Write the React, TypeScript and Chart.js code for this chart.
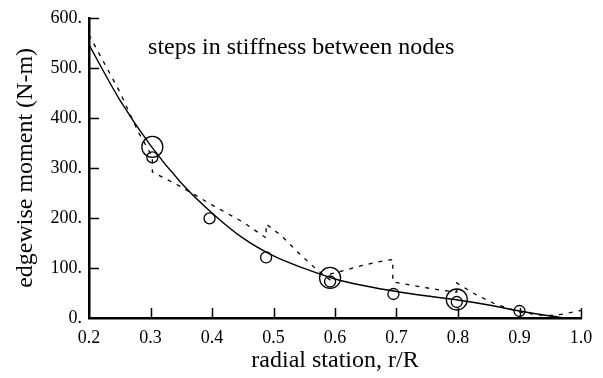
import React, { useEffect, useRef } from "react";
import { Chart, registerables } from "chart.js";

Chart.register(...registerables);

// Fitted curve (solid)
const fitR = [0.2, 0.25, 0.3, 0.35, 0.4, 0.45, 0.5, 0.55, 0.6, 0.65, 0.7, 0.75, 0.8, 0.85, 0.9, 0.95, 0.975];
const fitM = [546, 436, 345, 270, 210, 160, 124, 99, 78, 64, 53, 44, 36, 26, 14, 4, 0];

// Stepped stiffness model (dashed)
const stepR = [0.2, 0.25, 0.28, 0.303, 0.303, 0.35, 0.4, 0.45, 0.488, 0.488, 0.513, 0.54, 0.57, 0.593, 0.593, 0.645, 0.681, 0.694, 0.694, 0.74, 0.776, 0.798, 0.798, 0.826, 0.86, 0.9, 0.933, 0.952, 0.971, 1.0];
const stepM = [566, 452, 372, 322, 292, 262, 226, 192, 160, 188, 164, 131, 97, 75, 88, 105, 115, 117, 72, 62, 55, 52, 70, 49, 28, 12, 6, 5, 8, 15];

// Small circles (nodes)
const nodeR = [0.303, 0.396, 0.488, 0.592, 0.695, 0.798, 0.9];
const nodeM = [321, 199, 121, 73, 48, 32, 14];

// Large circles
const bigR = [0.303, 0.592, 0.798];
const bigM = [342, 80, 37];

const xTicks = [0.2, 0.3, 0.4, 0.5, 0.6, 0.7, 0.8, 0.9, 1.0];
const yTicks = [0, 100, 200, 300, 400, 500, 600];

const annotation = "steps in stiffness between nodes";
const xTitle = "radial station, r/R";
const yTitle = "edgewise moment (N-m)";

const FONT = "'Liberation Serif', 'Times New Roman', serif";

const pts = (xs: number[], ys: number[]) => xs.map((x, i) => ({ x, y: ys[i] }));

const innerTicks = {
  id: "innerTicks",
  afterDraw(chart: any) {
    const ctx = chart.ctx;
    const xs = chart.scales.x;
    const ys = chart.scales.y;
    const y0 = ys.getPixelForValue(0);
    const x0 = xs.getPixelForValue(0.2);
    ctx.save();
    ctx.strokeStyle = "#000";
    ctx.lineWidth = 1.5;
    ctx.beginPath();
    xTicks.slice(1).forEach((v) => {
      const px = Math.round(xs.getPixelForValue(v)) + 0.5;
      ctx.moveTo(px, y0);
      ctx.lineTo(px, y0 - 10);
    });
    yTicks.slice(1).forEach((v) => {
      const py = Math.round(ys.getPixelForValue(v)) + 0.5;
      ctx.moveTo(x0, py);
      ctx.lineTo(x0 + 10, py);
    });
    ctx.stroke();
    // annotation text
    ctx.fillStyle = "#000";
    ctx.font = `24px ${FONT}`;
    ctx.textBaseline = "alphabetic";
    ctx.textAlign = "left";
    ctx.fillText(annotation, xs.getPixelForValue(0.296), ys.getPixelForValue(527));
    ctx.restore();
  },
};

export default function App() {
  const ref = useRef<HTMLCanvasElement | null>(null);
  useEffect(() => {
    if (!ref.current) return;
    const chart = new Chart(ref.current, {
      type: "scatter",
      data: {
        datasets: [
          {
            data: pts(fitR, fitM),
            showLine: true,
            borderColor: "#000",
            borderWidth: 1.4,
            pointRadius: 0,
            cubicInterpolationMode: "monotone",
            fill: false,
          },
          {
            data: pts(stepR, stepM),
            showLine: true,
            borderColor: "#000",
            borderWidth: 1.3,
            borderDash: [4, 6],
            pointRadius: 0,
            tension: 0,
            fill: false,
          },
          {
            data: pts(nodeR, nodeM),
            showLine: false,
            pointRadius: 5.5,
            pointBorderWidth: 1.3,
            pointBorderColor: "#000",
            pointBackgroundColor: "rgba(0,0,0,0)",
          },
          {
            data: pts(bigR, bigM),
            showLine: false,
            pointRadius: 10.5,
            pointBorderWidth: 1.3,
            pointBorderColor: "#000",
            pointBackgroundColor: "rgba(0,0,0,0)",
          },
        ] as any,
      },
      options: {
        animation: false,
        responsive: true,
        maintainAspectRatio: false,
        layout: { padding: { left: 0, right: 22, top: 15, bottom: 0 } },
        plugins: { legend: { display: false }, tooltip: { enabled: false } },
        scales: {
          x: {
            type: "linear",
            min: 0.2,
            max: 1.0,
            afterBuildTicks: (s: any) => {
              s.ticks = xTicks.map((v) => ({ value: v }));
            },
            afterFit: (s: any) => {
              s.height = 60;
            },
            grid: { display: true, drawOnChartArea: false, drawTicks: false },
            border: { display: true, color: "#000", width: 2.5 },
            ticks: {
              color: "#000",
              padding: 9,
              maxRotation: 0,
              autoSkip: false,
              font: { family: FONT, size: 18 },
              callback: (v: any) => Number(v).toFixed(1),
            },
            title: {
              display: true,
              text: xTitle,
              color: "#000",
              font: { family: FONT, size: 24 },
              padding: { top: 0, bottom: 3 },
            },
          },
          y: {
            type: "linear",
            min: 0,
            max: 600,
            afterBuildTicks: (s: any) => {
              s.ticks = yTicks.map((v) => ({ value: v }));
            },
            afterFit: (s: any) => {
              s.width = 89;
            },
            grid: { display: true, drawOnChartArea: false, drawTicks: false },
            border: { display: true, color: "#000", width: 2.5 },
            ticks: {
              color: "#000",
              padding: 7,
              autoSkip: false,
              font: { family: FONT, size: 18 },
              callback: (v: any) => `${v}.`,
            },
            title: {
              display: true,
              text: yTitle,
              color: "#000",
              font: { family: FONT, size: 24 },
              padding: { top: 11, bottom: 0 },
            },
          },
        },
      } as any,
      plugins: [innerTicks],
    });
    return () => chart.destroy();
  }, []);
  return (
    <div style={{ position: "fixed", left: 0, top: 0, width: 603, height: 378, background: "#fff" }}>
      <canvas ref={ref} />
    </div>
  );
}
